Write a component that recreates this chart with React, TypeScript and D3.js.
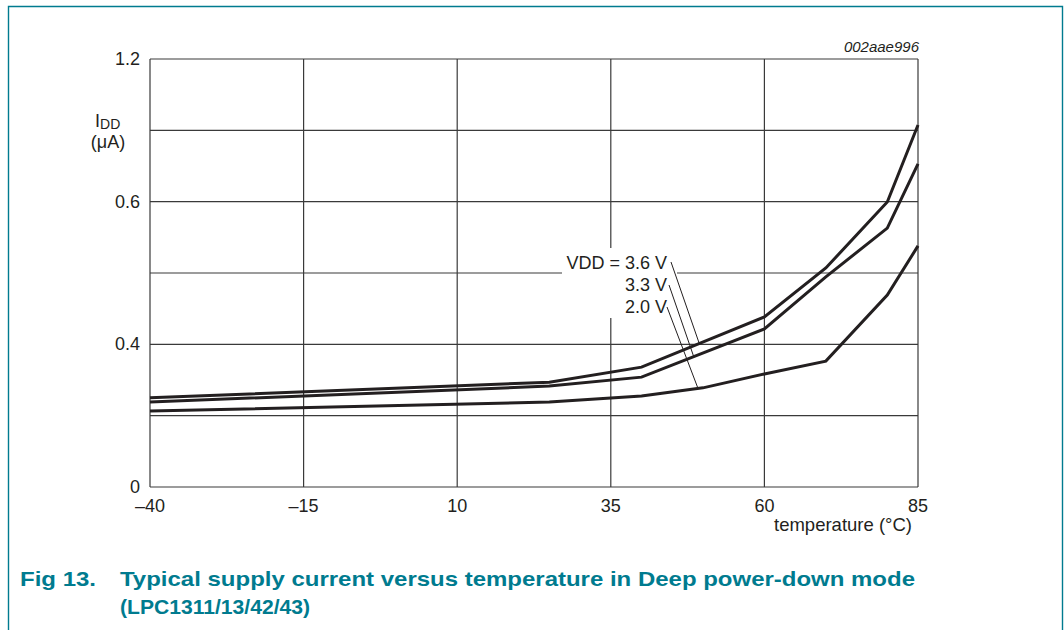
import React from "react";
import * as d3 from "d3";

const temps = [-40, 25, 40, 60, 70, 80, 85];
const idd36 = [0.25, 0.294, 0.336, 0.477, 0.614, 0.799, 1.015];
const idd33 = [0.238, 0.283, 0.308, 0.443, 0.589, 0.726, 0.906];
const temps20 = [-40, 25, 40, 50, 60, 70, 80, 85];
const idd20 = [0.213, 0.238, 0.255, 0.278, 0.317, 0.353, 0.538, 0.676];

const xTicks = [-40, -15, 10, 35, 60, 85];
const xTickLabels = ["\u201340", "\u201315", "10", "35", "60", "85"];
const yGrid = [0, 0.2, 0.4, 0.6, 0.8, 1.0, 1.2];
const yTicks = [0, 0.4, 0.8, 1.2];
const yTickLabels = ["0", "0.4", "0.6", "1.2"];

const seriesLabels = ["VDD = 3.6 V", "3.3 V", "2.0 V"];
const leaderTemps = [49.4, 48.5, 49.2];

const FONT = "'Liberation Sans', Arial, sans-serif";
const TEAL = "#007b8f";
const INK = "#231f20";

export default function App() {
  const x = d3.scaleLinear().domain([-40, 85]).range([150, 918]);
  const y = d3.scaleLinear().domain([0, 1.2]).range([487, 59]);
  const line = d3
    .line<[number, number]>()
    .x((d) => x(d[0]))
    .y((d) => y(d[1]));
  const series = [
    { t: temps, v: idd36 },
    { t: temps, v: idd33 },
    { t: temps20, v: idd20 },
  ];
  const interp = (t: number[], v: number[], q: number) => {
    const i = d3.bisectRight(t, q) - 1;
    const f = (q - t[i]) / (t[i + 1] - t[i]);
    return v[i] + f * (v[i + 1] - v[i]);
  };
  const labelX = 667;
  const labelY = [269, 291, 313];
  const leaderStart = [
    [671, 262],
    [669, 285],
    [667, 307],
  ];

  return (
    <svg
      width={1064}
      height={630}
      style={{ position: "absolute", left: 0, top: 0, background: "#fff" }}
      fontFamily={FONT}
    >
      <rect x={0} y={0} width={1064} height={630} fill="#fff" />
      {/* frame */}
      <path
        d="M8.5,630 L8.5,6.5 L1062.5,6.5 L1062.5,630"
        fill="none"
        stroke={TEAL}
        strokeWidth={1.4}
      />
      {/* grid */}
      {yGrid.map((g, i) => (
        <line
          key={"h" + i}
          x1={x(-40)}
          x2={x(85)}
          y1={y(g)}
          y2={y(g)}
          stroke="#3a3a3a"
          strokeWidth={1.2}
        />
      ))}
      {xTicks.map((t, i) => (
        <line
          key={"v" + i}
          x1={x(t)}
          x2={x(t)}
          y1={y(0)}
          y2={y(1.2)}
          stroke="#3a3a3a"
          strokeWidth={1.2}
        />
      ))}
      {/* label box */}
      <rect x={562} y={248} width={115} height={70} fill="#fff" />
      {/* curves */}
      {series.map((s, i) => (
        <path
          key={"s" + i}
          d={line(s.t.map((t, j) => [t, s.v[j]] as [number, number])) || ""}
          fill="none"
          stroke={INK}
          strokeWidth={3}
          strokeLinejoin="miter"
        />
      ))}
      {/* leaders */}
      {series.map((s, i) => (
        <line
          key={"l" + i}
          x1={leaderStart[i][0]}
          y1={leaderStart[i][1]}
          x2={x(leaderTemps[i])}
          y2={y(interp(s.t, s.v, leaderTemps[i]))}
          stroke={INK}
          strokeWidth={1}
        />
      ))}
      {seriesLabels.map((l, i) => (
        <text
          key={"t" + i}
          x={labelX}
          y={labelY[i]}
          textAnchor="end"
          fontSize={18}
          fill={INK}
        >
          {l}
        </text>
      ))}
      {/* x tick labels */}
      {xTicks.map((t, i) => (
        <text
          key={"xt" + i}
          x={x(t)}
          y={512}
          textAnchor="middle"
          fontSize={18}
          fill={INK}
        >
          {xTickLabels[i]}
        </text>
      ))}
      {yTicks.map((t, i) => (
        <text
          key={"yt" + i}
          x={140}
          y={y(t) + 6}
          textAnchor="end"
          fontSize={18}
          fill={INK}
        >
          {yTickLabels[i]}
        </text>
      ))}
      <text x={912} y={531} textAnchor="end" fontSize={18.5} fill={INK}>
        temperature (°C)
      </text>
      <text x={95} y={127} fontSize={18} fill={INK}>
        I<tspan fontSize={14} dy={2}>DD</tspan>
      </text>
      <text x={108} y={148} textAnchor="middle" fontSize={18} fill={INK}>
        (μA)
      </text>
      <text
        x={919}
        y={52}
        textAnchor="end"
        fontSize={15}
        fontStyle="italic"
        fill={INK}
      >
        002aae996
      </text>
      {/* caption */}
      <text
        x={20}
        y={586}
        fontSize={21}
        fontWeight="bold"
        fill={TEAL}
        textLength={76}
        lengthAdjust="spacingAndGlyphs"
      >
        Fig 13.
      </text>
      <text
        x={120}
        y={586}
        fontSize={21}
        fontWeight="bold"
        fill={TEAL}
        textLength={795}
        lengthAdjust="spacingAndGlyphs"
      >
        Typical supply current versus temperature in Deep power-down mode
      </text>
      <text
        x={120}
        y={614}
        fontSize={21}
        fontWeight="bold"
        fill={TEAL}
        textLength={190}
        lengthAdjust="spacingAndGlyphs"
      >
        (LPC1311/13/42/43)
      </text>
    </svg>
  );
}
